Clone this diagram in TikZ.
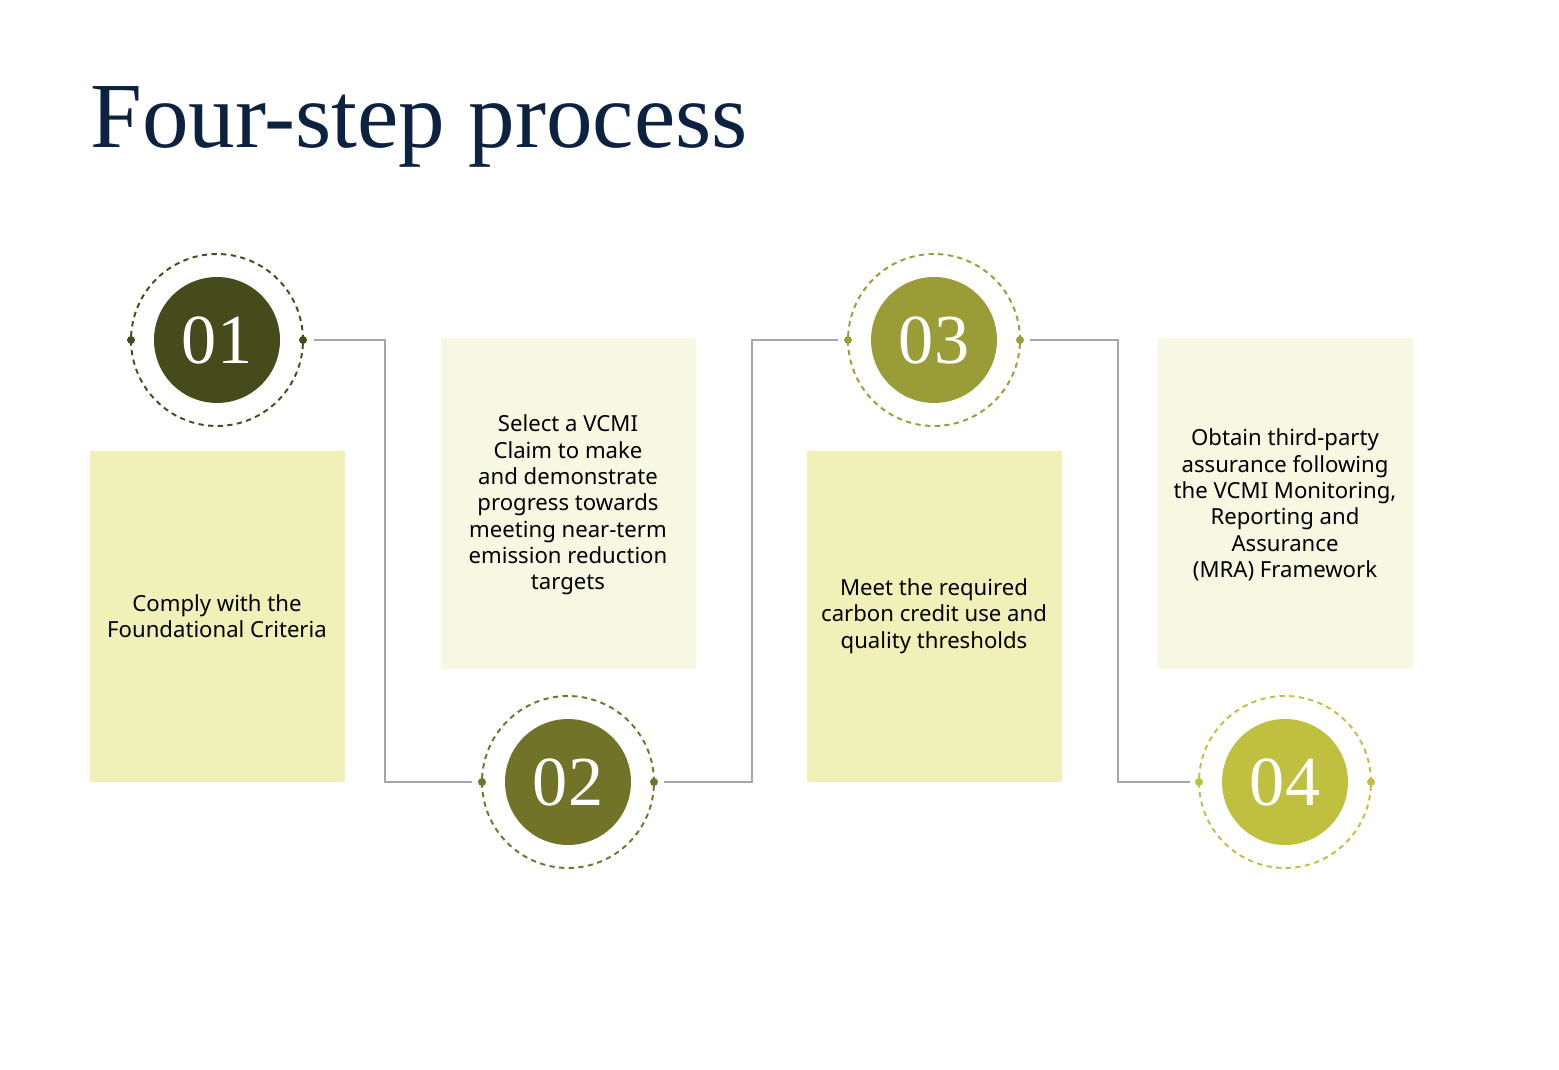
\documentclass[tikz,border=0pt]{standalone}
\usepackage{fontspec}
\setmainfont{Noto Sans}
\newfontfamily\titlefont{Liberation Serif}
\begin{document}
\begin{tikzpicture}[x=0.02cm,y=-0.02cm,
  num/.style={circle,minimum size=2.52cm,inner sep=0pt,text=white,font=\titlefont\fontsize{40}{40}\selectfont},
  ring/.style={dashed,line width=1.1pt,dash pattern=on 3pt off 2.5pt},
  dot/.style={circle,inner sep=0pt,minimum size=0.16cm},
  box/.style={anchor=north west,minimum width=5.1cm,minimum height=6.62cm,inner sep=0pt},
  txt/.style={align=center,font=\fontsize{12.6}{15}\selectfont,text=black},
  conn/.style={draw=gray!70,line width=0.8pt}]
\definecolor{c1}{HTML}{454B1A}\definecolor{c2}{HTML}{717328}
\definecolor{c3}{HTML}{9A9C38}\definecolor{c4}{HTML}{BFC040}
\definecolor{bA}{HTML}{F0F1B8}\definecolor{bB}{HTML}{F6F8E2}
\useasboundingbox (0,0) rectangle (1559,1070);
\node[anchor=base west,inner sep=0pt,font=\titlefont\fontsize{53}{53}\selectfont,text={rgb,255:red,13;green,34;blue,64}] (title) at (90,148) {Four-step process};
\node[box,fill=bA] (b1) at (90,451) {};
\node[box,fill=bB] (b2) at (441,338) {};
\node[box,fill=bA] (b3) at (807,451) {};
\node[box,fill=bB] (b4) at (1158,338) {};
\node[txt] (t1) at (217,616) {Comply with the\\Foundational Criteria};
\node[txt] (t2) at (568,505) {Select a VCMI\\Claim to make\\and demonstrate\\progress towards\\meeting near-term\\emission reduction\\targets};
\node[txt] (t3) at (934,616) {Meet the required\\carbon credit use and\\quality thresholds};
\node[txt] (t4) at (1285,505) {Obtain third-party\\assurance following\\the VCMI Monitoring,\\Reporting and\\Assurance\\(MRA) Framework};
\foreach \n/\x/\y/\c in {1/217/340/c1,2/568/782/c2,3/934/340/c3,4/1285/782/c4}{
  \draw[ring,draw=\c] (\x,\y) circle (1.72cm);
  \node[num,fill=\c] (n\n) at (\x,\y) {0\n};
  \node[dot,fill=\c] (l\n) at (\x-86,\y) {};
  \node[dot,fill=\c] (r\n) at (\x+86,\y) {};
}
\coordinate (a1) at (314,340);\coordinate (a2) at (472,782);
\coordinate (a3) at (664,782);\coordinate (a4) at (838,340);
\coordinate (a5) at (1030,340);\coordinate (a6) at (1190,782);
\draw[conn] (a1) -- (385,340) -- (385,782) -- (a2);
\draw[conn] (a3) -- (752,782) -- (752,340) -- (a4);
\draw[conn] (a5) -- (1118,340) -- (1118,782) -- (a6);
\end{tikzpicture}
\end{document}
